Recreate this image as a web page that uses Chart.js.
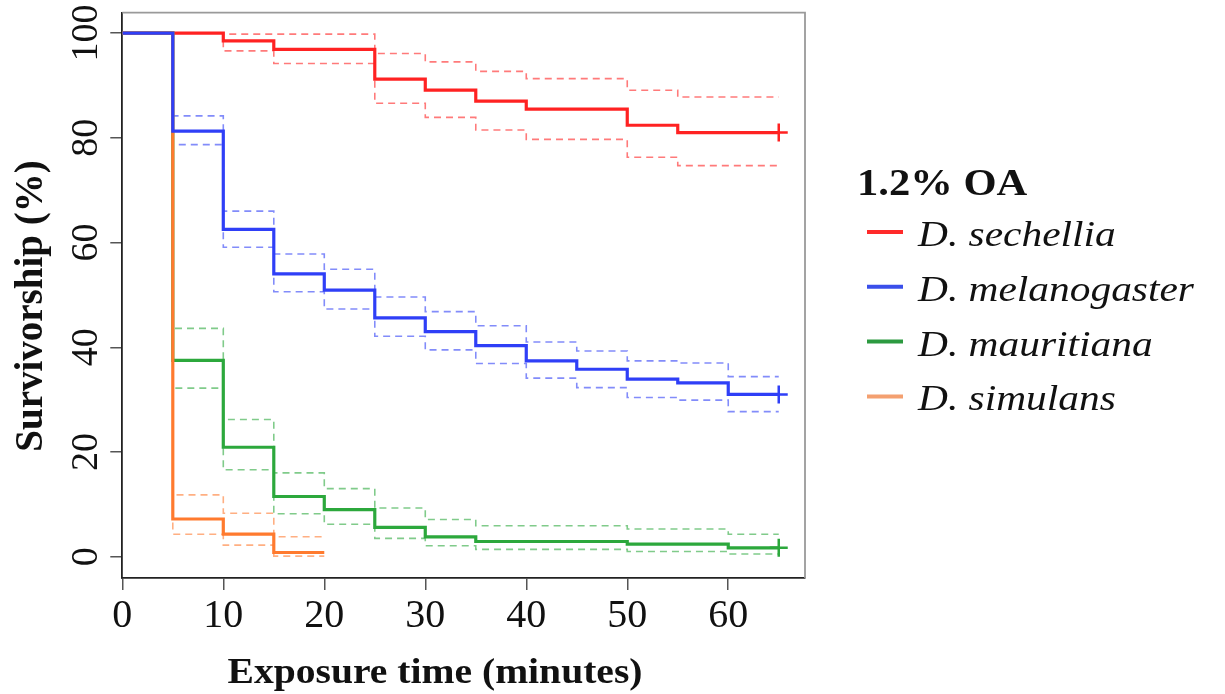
<!DOCTYPE html>
<html>
<head>
<meta charset="utf-8">
<script src="https://cdn.jsdelivr.net/npm/chart.js@4.4.1/dist/chart.umd.min.js"></script>
<style>
  html, body { margin: 0; padding: 0; background: #fff; }
  #survChart { display: block; }
</style>
</head>
<body>
<canvas id="survChart" width="1225" height="694"></canvas>
<script>
// tick positions
const timeTicks = [0, 10, 20, 30, 40, 50, 60];
const survTicks = [0, 20, 40, 60, 80, 100];

// legend
const legendTitle = '1.2% OA';
const species = ['D. sechellia', 'D. melanogaster', 'D. mauritiana', 'D. simulans'];
const lineColors = ['#FF2222', '#2F3FF7', '#2CA83C', '#FF7A2E'];
const keyColors = ['#FF2A2A', '#3A4FEA', '#2C9A40', '#F4A070'];

// D. sechellia (times where the curve steps, value after the step)
const secTime = [0, 10, 15, 25, 30, 35, 40, 50, 55, 65];
const secSurv = [100, 98.5, 96.9, 91.2, 89.1, 87.0, 85.5, 82.4, 81.0, 81.0];
const secUpper = [100, 99.8, 99.8, 96.1, 94.5, 92.7, 91.3, 89.1, 87.8, 87.8];
const secLower = [100, 96.6, 94.2, 86.6, 83.9, 81.5, 79.7, 76.3, 74.7, 74.7];

// D. melanogaster
const melTime = [0, 5, 10, 15, 20, 25, 30, 35, 40, 45, 50, 55, 60, 65];
const melSurv = [100, 81.3, 62.5, 54.0, 50.9, 45.6, 43.0, 40.3, 37.4, 35.8, 33.9, 33.2, 31.0, 31.0];
const melUpper = [100, 84.2, 66.0, 57.8, 54.9, 49.6, 46.8, 44.1, 41.0, 39.3, 37.4, 37.0, 34.4, 34.4];
const melLower = [100, 78.7, 59.1, 50.6, 47.3, 42.1, 39.5, 36.9, 34.1, 32.3, 30.4, 29.9, 27.7, 27.7];

// D. mauritiana
const mauTime = [0, 5, 10, 15, 20, 25, 30, 35, 50, 60, 65];
const mauSurv = [100, 37.5, 20.9, 11.5, 9.0, 5.6, 3.8, 2.9, 2.4, 1.7, 1.7];
const mauUpper = [100, 43.6, 26.2, 16.0, 13.0, 9.3, 7.1, 5.9, 5.3, 4.3, 4.3];
const mauLower = [100, 32.2, 16.6, 8.2, 6.2, 3.5, 2.1, 1.4, 1.0, 0.5, 0.5];

// D. simulans
const simTime = [0, 5, 10, 15, 20];
const simSurv = [100, 7.2, 4.3, 0.8, 0.8];
const simUpper = [100, 11.8, 8.3, 3.8, 3.8];
const simLower = [100, 4.3, 2.2, 0.1, 0.1];

function toPoints(times, vals) {
  return times.map((t, i) => ({ x: t, y: vals[i] }));
}

function fade(hex, a) {
  const n = parseInt(hex.slice(1), 16);
  return `rgba(${(n >> 16) & 255},${(n >> 8) & 255},${n & 255},${a})`;
}

function mainLine(label, times, vals, color, order, censored) {
  const last = times.length - 1;
  return {
    label: label,
    data: toPoints(times, vals),
    stepped: true,
    borderColor: color,
    backgroundColor: color,
    borderWidth: 3.2,
    pointStyle: 'cross',
    pointRadius: c => (censored && c.dataIndex === last ? 9 : 0),
    pointBorderWidth: 2.5,
    pointBorderColor: color,
    fill: false,
    order: order
  };
}

function ciLine(label, times, vals, color, order) {
  return {
    label: label,
    data: toPoints(times, vals),
    stepped: true,
    borderColor: fade(color, 0.6),
    borderWidth: 1.6,
    borderDash: [7, 5],
    pointRadius: 0,
    fill: false,
    order: order
  };
}

const datasets = [
  mainLine(species[0], secTime, secSurv, lineColors[0], 4, true),
  mainLine(species[1], melTime, melSurv, lineColors[1], 1, true),
  mainLine(species[2], mauTime, mauSurv, lineColors[2], 3, true),
  mainLine(species[3], simTime, simSurv, lineColors[3], 2, false),
  ciLine('sec upper', secTime, secUpper, lineColors[0], 20),
  ciLine('sec lower', secTime, secLower, lineColors[0], 20),
  ciLine('mel upper', melTime, melUpper, lineColors[1], 11),
  ciLine('mel lower', melTime, melLower, lineColors[1], 11),
  ciLine('mau upper', mauTime, mauUpper, lineColors[2], 13),
  ciLine('mau lower', mauTime, mauLower, lineColors[2], 13),
  ciLine('sim upper', simTime, simUpper, lineColors[3], 12),
  ciLine('sim lower', simTime, simLower, lineColors[3], 12)
];

function stretchedText(ctx, str, x, y, font, sx, align) {
  ctx.save();
  ctx.font = font;
  ctx.translate(x, y);
  ctx.scale(sx, 1);
  ctx.textAlign = align || 'left';
  ctx.textBaseline = 'alphabetic';
  ctx.fillText(str, 0, 0);
  ctx.restore();
}

// frame, y tick labels, axis titles and legend
const decorations = {
  id: 'decorations',
  afterDraw(chart) {
    const ctx = chart.ctx;
    const a = chart.chartArea;
    const ys = chart.scales.y;

    ctx.save();
    ctx.strokeStyle = '#9a9a9a';
    ctx.lineWidth = 1.8;
    ctx.beginPath();
    ctx.moveTo(a.left, a.top);
    ctx.lineTo(a.right, a.top);
    ctx.lineTo(a.right, a.bottom);
    ctx.stroke();
    ctx.restore();

    ctx.fillStyle = '#111';
    ys.ticks.forEach(t => {
      const py = ys.getPixelForValue(t.value);
      ctx.save();
      ctx.translate(97, py);
      ctx.rotate(-Math.PI / 2);
      ctx.font = '38px "Liberation Serif"';
      ctx.textAlign = 'center';
      ctx.textBaseline = 'alphabetic';
      ctx.fillText(String(t.value), 0, 0);
      ctx.restore();
    });

    ctx.save();
    ctx.translate(42, 306);
    ctx.rotate(-Math.PI / 2);
    ctx.font = 'bold 39px "Liberation Serif"';
    ctx.textAlign = 'center';
    ctx.fillText('Survivorship (%)', 0, 0);
    ctx.restore();

    stretchedText(ctx, 'Exposure time (minutes)', 435, 683, 'bold 36px "Liberation Serif"', 1.1, 'center');

    stretchedText(ctx, legendTitle, 857, 195, 'bold 38px "Liberation Serif"', 1.12, 'left');
    species.forEach((name, i) => {
      const ly = 232 + i * 54.8;
      ctx.save();
      ctx.strokeStyle = keyColors[i];
      ctx.lineWidth = 4;
      ctx.beginPath();
      ctx.moveTo(867, ly);
      ctx.lineTo(903, ly);
      ctx.stroke();
      ctx.restore();
      stretchedText(ctx, name, 918, ly + 14, 'italic 36px "Liberation Serif"', 1.15, 'left');
    });
  }
};

new Chart(document.getElementById('survChart').getContext('2d'), {
  type: 'line',
  data: { datasets: datasets },
  options: {
    responsive: false,
    animation: false,
    devicePixelRatio: 1,
    layout: { padding: { left: 0, right: 420, top: 12.7, bottom: 0 } },
    plugins: {
      legend: { display: false },
      tooltip: { enabled: false }
    },
    scales: {
      x: {
        type: 'linear',
        position: 'bottom',
        min: 0,
        max: 67.6,
        afterBuildTicks: s => { s.ticks = timeTicks.map(v => ({ value: v })); },
        afterFit: s => { s.height = 116; },
        grid: { drawOnChartArea: false, drawTicks: true, tickLength: 12, tickColor: '#555', lineWidth: 1.5 },
        border: { display: true, color: '#222', width: 1.8 },
        ticks: {
          color: '#111',
          padding: 2,
          maxRotation: 0,
          font: { family: '"Liberation Serif"', size: 40 }
        }
      },
      y: {
        type: 'linear',
        position: 'left',
        min: -4.07,
        max: 103.9,
        afterBuildTicks: s => { s.ticks = survTicks.map(v => ({ value: v })); },
        afterFit: s => { s.width = 122.3; },
        grid: { drawOnChartArea: false, drawTicks: true, tickLength: 12, tickColor: '#555', lineWidth: 1.5 },
        border: { display: true, color: '#222', width: 1.8 },
        ticks: { display: false }
      }
    }
  },
  plugins: [decorations]
});
</script>
</body>
</html>
